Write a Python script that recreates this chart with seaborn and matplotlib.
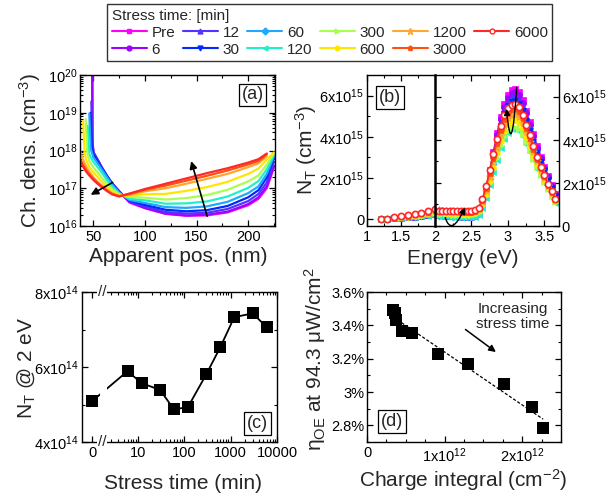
import numpy as np
import pandas as pd
import matplotlib
matplotlib.use("Agg")
import matplotlib.pyplot as plt
import seaborn as sns
from matplotlib import ticker
from matplotlib.lines import Line2D
from matplotlib.path import Path
from matplotlib.patches import FancyArrowPatch

# ---------------- data ----------------
stress_labels = ["Pre", "6", "12", "30", "60", "120", "300", "600", "1200", "3000", "6000"]
stress_colors = ["#ff00ff", "#a000ff", "#5533ff", "#0028ff", "#20a8ff", "#22f0c8",
                 "#a8ff50", "#ffe600", "#ffa830", "#ff5010", "#ff2828"]
stress_markers = ["s", "o", "^", "v", "D", "<", ">", "h", "*", "p", "o"]

# (a) charge density vs apparent position (log10 of cm^-3)
a_body_pos = [50, 54, 58, 63, 68, 75, 85, 100, 120, 140, 160, 180, 200, 210, 218, 225]
a_head_pos = [[49.0, 49.3], [48.7, 49.0], [48.0, 48.8], [47.2, 48.3], [46.0, 47.3],
              [44.5, 46.0], [42.5, 44.0, 46.0], [40.0, 41.5, 43.0, 46.0],
              [37, 40, 43, 46], [37, 40, 43, 46], [37, 40, 43, 46]]
a_head_logn = [[20.6, 18.2], [20.6, 18.3], [19.3, 18.2], [19.0, 18.15], [18.98, 18.05],
               [18.65, 17.9], [18.83, 17.95, 17.72], [18.78, 17.95, 17.75, 17.56],
               [18.0, 17.75, 17.57, 17.44], [17.78, 17.62, 17.48, 17.37],
               [17.72, 17.57, 17.44, 17.34]]
a_body_logn = [
    [17.93, 17.75, 17.55, 17.32, 17.12, 16.92, 16.62, 16.47, 16.32, 16.27, 16.28, 16.36, 16.55, 16.72, 17.00, 17.55],
    [17.95, 17.76, 17.56, 17.33, 17.13, 16.92, 16.64, 16.48, 16.33, 16.28, 16.30, 16.38, 16.58, 16.76, 17.05, 17.60],
    [17.96, 17.76, 17.56, 17.34, 17.14, 16.91, 16.65, 16.52, 16.37, 16.33, 16.35, 16.45, 16.66, 16.85, 17.15, 17.70],
    [17.90, 17.72, 17.54, 17.33, 17.13, 16.90, 16.67, 16.56, 16.43, 16.39, 16.42, 16.53, 16.76, 16.95, 17.28, 17.80],
    [17.82, 17.66, 17.50, 17.30, 17.10, 16.88, 16.69, 16.61, 16.50, 16.48, 16.52, 16.64, 16.87, 17.05, 17.38, 17.85],
    [17.70, 17.56, 17.42, 17.22, 17.05, 16.86, 16.72, 16.68, 16.59, 16.60, 16.65, 16.78, 17.01, 17.19, 17.50, 17.90],
    [17.55, 17.42, 17.28, 17.12, 16.98, 16.84, 16.77, 16.75, 16.70, 16.74, 16.82, 16.96, 17.18, 17.34, 17.63, 17.93],
    [17.42, 17.30, 17.18, 17.03, 16.92, 16.82, 16.80, 16.84, 16.85, 16.93, 17.03, 17.17, 17.38, 17.52, 17.76, 17.95],
    [17.29, 17.18, 17.08, 16.97, 16.87, 16.80, 16.83, 16.92, 17.00, 17.12, 17.25, 17.38, 17.56, 17.66, 17.85, None],
    [17.25, 17.14, 17.05, 16.94, 16.85, 16.79, 16.85, 16.96, 17.07, 17.20, 17.33, 17.47, 17.63, 17.72, 17.90, None],
    [17.22, 17.12, 17.03, 16.93, 16.84, 16.78, 16.86, 16.98, 17.12, 17.26, 17.40, 17.53, 17.68, 17.77, 17.92, None],
]

# (b) trap density spectra, units of 1e15 cm^-3
b_left_E = [1.2, 1.3, 1.4, 1.5, 1.6, 1.7, 1.8, 1.9, 2.0]
b_left_N = [
    [0.0, 0.01, 0.03, 0.06, 0.09, 0.12, 0.15, 0.20, 0.25],
    [0.0, 0.01, 0.04, 0.07, 0.10, 0.13, 0.17, 0.22, 0.28],
    [0.0, 0.01, 0.04, 0.07, 0.09, 0.12, 0.16, 0.21, 0.27],
    [0.0, 0.01, 0.04, 0.06, 0.09, 0.12, 0.15, 0.20, 0.26],
    [0.0, 0.01, 0.03, 0.06, 0.08, 0.11, 0.14, 0.18, 0.24],
    [-0.01, 0.0, 0.03, 0.05, 0.08, 0.10, 0.13, 0.17, 0.22],
    [0.0, 0.01, 0.04, 0.07, 0.10, 0.13, 0.17, 0.22, 0.28],
    [0.0, 0.01, 0.05, 0.09, 0.12, 0.16, 0.21, 0.27, 0.34],
    [0.0, 0.02, 0.06, 0.11, 0.14, 0.19, 0.25, 0.31, 0.40],
    [0.0, 0.02, 0.07, 0.13, 0.16, 0.22, 0.28, 0.35, 0.44],
    [0.0, 0.02, 0.08, 0.15, 0.18, 0.24, 0.30, 0.38, 0.48],
]
b_right_E = [2.00, 2.05, 2.10, 2.15, 2.20, 2.25, 2.30, 2.35, 2.40, 2.45, 2.50, 2.55,
             2.60, 2.65, 2.70, 2.75, 2.80, 2.85, 2.90, 2.95, 3.00, 3.05, 3.10, 3.15,
             3.20, 3.25, 3.30, 3.35, 3.40, 3.45, 3.50, 3.55, 3.60, 3.65]
b_right_N = [
    [.51, .50, .49, .48, .47, .46, .45, .44, .43, .43, .44, .48, .62, 1.05, 1.75, 2.6, 3.45, 4.3, 5.05, 5.65, 6.05, 6.3, 6.35, 6.2, 5.85, 5.35, 4.8, 4.25, 3.7, 3.2, 2.75, 2.3, 1.9, 1.5],
    [.59, .58, .57, .56, .55, .54, .53, .52, .51, .51, .52, .56, .70, 1.10, 1.76, 2.58, 3.4, 4.2, 4.95, 5.52, 5.92, 6.15, 6.2, 6.05, 5.72, 5.22, 4.7, 4.15, 3.62, 3.13, 2.7, 2.27, 1.87, 1.48],
    [.555, .545, .535, .525, .515, .505, .495, .485, .475, .47, .48, .52, .66, 1.07, 1.72, 2.52, 3.32, 4.1, 4.8, 5.35, 5.75, 5.96, 6.0, 5.86, 5.53, 5.05, 4.55, 4.03, 3.52, 3.05, 2.62, 2.2, 1.82, 1.45],
    [.54, .53, .52, .51, .50, .49, .48, .47, .46, .46, .47, .51, .64, 1.03, 1.66, 2.44, 3.22, 3.97, 4.65, 5.18, 5.56, 5.76, 5.8, 5.66, 5.35, 4.88, 4.4, 3.9, 3.4, 2.95, 2.53, 2.13, 1.76, 1.4],
    [.49, .48, .47, .46, .45, .44, .43, .42, .41, .41, .42, .45, .57, .92, 1.47, 2.17, 2.88, 3.56, 4.17, 4.65, 4.99, 5.17, 5.2, 5.08, 4.8, 4.38, 3.95, 3.5, 3.06, 2.65, 2.28, 1.92, 1.58, 1.25],
    [.49, .48, .46, .45, .44, .43, .42, .41, .40, .40, .41, .44, .53, .82, 1.28, 1.88, 2.49, 3.08, 3.61, 4.03, 4.32, 4.48, 4.5, 4.4, 4.16, 3.8, 3.43, 3.04, 2.66, 2.31, 1.99, 1.68, 1.38, 1.05],
    [.58, .57, .56, .55, .54, .53, .52, .51, .50, .50, .51, .54, .63, .92, 1.38, 1.98, 2.58, 3.17, 3.7, 4.12, 4.42, 4.58, 4.6, 4.5, 4.25, 3.88, 3.5, 3.1, 2.72, 2.36, 2.03, 1.71, 1.41, 1.12],
    [.65, .64, .63, .62, .61, .60, .59, .58, .57, .57, .58, .61, .71, 1.0, 1.48, 2.1, 2.75, 3.37, 3.94, 4.39, 4.71, 4.88, 4.9, 4.79, 4.52, 4.13, 3.72, 3.3, 2.88, 2.5, 2.15, 1.81, 1.49, 1.18],
    [.73, .72, .71, .70, .69, .68, .67, .66, .65, .65, .66, .69, .80, 1.12, 1.63, 2.28, 2.96, 3.62, 4.2, 4.66, 4.99, 5.17, 5.2, 5.07, 4.77, 4.35, 3.9, 3.45, 3.0, 2.6, 2.23, 1.87, 1.53, 1.2],
    [.74, .73, .72, .71, .70, .69, .68, .67, .66, .66, .67, .70, .83, 1.2, 1.76, 2.46, 3.17, 3.86, 4.46, 4.94, 5.26, 5.43, 5.45, 5.31, 4.99, 4.54, 4.07, 3.59, 3.12, 2.69, 2.3, 1.92, 1.57, 1.23],
    [.705, .70, .70, .70, .70, .70, .70, .70, .70, .70, .71, .72, .85, 1.25, 1.85, 2.6, 3.35, 4.05, 4.65, 5.15, 5.45, 5.62, 5.65, 5.5, 5.15, 4.7, 4.2, 3.7, 3.2, 2.75, 2.35, 1.95, 1.6, 1.25],
]

# (c) N_T at 2 eV vs stress time
c_time = [0, 6, 12, 30, 60, 120, 300, 600, 1200, 3000, 6000]
c_nt = [5.09e14, 5.89e14, 5.57e14, 5.39e14, 4.87e14, 4.93e14, 5.81e14, 6.53e14, 7.33e14, 7.43e14, 7.06e14]

# (d) efficiency vs charge integral
d_charge = [0.34e12, 0.36e12, 0.38e12, 0.45e12, 0.58e12, 0.91e12, 1.30e12, 1.76e12, 2.12e12, 2.27e12]
d_eta = [3.49, 3.475, 3.43, 3.365, 3.355, 3.23, 3.165, 3.045, 2.91, 2.785]

# ---------------- style ----------------
sns.set_style("ticks")
plt.rcParams.update({
    "font.family": ["Liberation Sans", "DejaVu Sans"],
    "mathtext.fontset": "custom",
    "mathtext.rm": "Liberation Sans",
    "mathtext.it": "Liberation Sans:italic",
    "mathtext.bf": "Liberation Sans:bold",
    "mathtext.default": "regular",
    "xtick.direction": "in", "ytick.direction": "in",
    "xtick.top": True, "ytick.right": True,
    "xtick.major.size": 4, "ytick.major.size": 4,
    "xtick.minor.size": 2.2, "ytick.minor.size": 2.2,
    "xtick.major.width": 0.9, "ytick.major.width": 0.9,
    "xtick.minor.width": 0.8, "ytick.minor.width": 0.8,
    "axes.linewidth": 1.0,
    "xtick.labelsize": 10.5, "ytick.labelsize": 10.5,
    "xtick.color": "k", "ytick.color": "k", "axes.edgecolor": "k",
    "xtick.major.pad": 3, "ytick.major.pad": 2,
})

W, H = 615, 498
fig = plt.figure(figsize=(W / 100, H / 100), dpi=100)


def rect(l, t, r, b):
    return [l / W, 1 - b / H, (r - l) / W, (b - t) / H]


ax_a = fig.add_axes(rect(80, 75, 275, 226))
ax_bl = fig.add_axes(rect(367, 75, 435, 226))
ax_br = fig.add_axes(rect(435, 75, 559, 226))
ax_c = fig.add_axes(rect(82, 292, 277, 442))
ax_d = fig.add_axes(rect(367, 292, 561, 442))

box = dict(boxstyle="square,pad=0.15", fc="white", ec="k", lw=0.9)
sup = lambda m, e: f"{m}x10$^{{{e}}}$"

# ---------------- (a) ----------------
rows = []
for i, lab in enumerate(stress_labels):
    for p, l in zip(a_head_pos[i] + a_body_pos, a_head_logn[i] + a_body_logn[i]):
        if l is not None:
            rows.append((lab, p, 10.0 ** l))
dfa = pd.DataFrame(rows, columns=["time", "pos", "dens"])
sns.lineplot(data=dfa, x="pos", y="dens", hue="time", hue_order=stress_labels,
             palette=stress_colors, estimator=None, sort=False, legend=False,
             lw=1.6, ax=ax_a)
ax_a.set_yscale("log")
ax_a.set_ylim(1e16, 1e20)
ax_a.set_xlim(37, 226)
ax_a.set_xticks([50, 100, 150, 200])
ax_a.xaxis.set_minor_locator(ticker.MultipleLocator(25))
ax_a.yaxis.set_major_locator(ticker.LogLocator(base=10, numticks=10))
ax_a.yaxis.set_minor_locator(ticker.LogLocator(base=10, subs=np.arange(2, 10), numticks=10))
ax_a.yaxis.set_minor_formatter(ticker.NullFormatter())
ax_a.set_xlabel("")
ax_a.set_ylabel("")
ax_a.annotate("", xy=(45, 10 ** 16.79), xytext=(71, 10 ** 17.19),
              arrowprops=dict(arrowstyle="-|>", color="k", lw=1.2, mutation_scale=11))
ax_a.annotate("", xy=(144, 10 ** 17.79), xytext=(161, 10 ** 16.19),
              arrowprops=dict(arrowstyle="-|>", color="k", lw=1.2, mutation_scale=11))
ax_a.text(0.885, 0.868, "(a)", transform=ax_a.transAxes, ha="center", va="center",
          fontsize=13, bbox=box)

# ---------------- (b) ----------------
for i, lab in enumerate(stress_labels):
    c = stress_colors[i]
    m = stress_markers[i]
    ms = {"s": 4.5, "D": 3.5, "*": 6}.get(m, 4.5)
    mfc = "white" if lab == "6000" else c
    mew = 1.2 if lab == "6000" else 0.5
    for ax, E, N in ((ax_bl, b_left_E, b_left_N[i]), (ax_br, b_right_E, b_right_N[i])):
        sns.lineplot(x=E, y=np.array(N) * 1e15, ax=ax, color=c, marker=m, markersize=ms,
                     markerfacecolor=mfc, markeredgecolor=c, markeredgewidth=mew,
                     lw=1.0, estimator=None, sort=False, legend=False)

ax_bl.set_xlim(1.0, 2.0)
ax_bl.set_ylim(-0.34e15, 7.0e15)
ax_bl.set_xticks([1, 1.5, 2], labels=["1", "1.5", "2"])
ax_bl.set_xticks([1.25, 1.75], minor=True)
ax_bl.set_yticks([0, 2e15, 4e15, 6e15], labels=["0", sup(2, 15), sup(4, 15), sup(6, 15)])
ax_bl.set_yticks([1e15, 3e15, 5e15], minor=True)
ax_bl.spines["right"].set_visible(False)
ax_bl.tick_params(axis="y", which="both", right=False)

ax_br.set_xlim(2.0, 3.7)
ax_br.set_ylim(0, 7.0e15)
ax_br.set_xticks([2.5, 3, 3.5], labels=["2.5", "3", "3.5"])
ax_br.set_xticks([2.25, 2.75, 3.25], minor=True)
ax_br.set_yticks([0, 2e15, 4e15, 6e15], labels=["0", sup(2, 15), sup(4, 15), sup(6, 15)])
ax_br.set_yticks([1e15, 3e15, 5e15], minor=True)
ax_br.tick_params(axis="y", which="both", left=True, right=True, labelleft=False,
                  labelright=True)
ax_br.spines["left"].set_linewidth(1.8)
for ax in (ax_bl, ax_br):
    ax.set_xlabel("")
    ax.set_ylabel("")
ax_bl.text(0.34, 0.85, "(b)", transform=ax_bl.transAxes, ha="center", va="center",
           fontsize=13, bbox=box)

p1 = Path([(3.12, 6.43e15), (3.05, 2.75e15), (2.98, 5.43e15)],
          [Path.MOVETO, Path.CURVE3, Path.CURVE3])
ax_br.add_patch(FancyArrowPatch(path=p1, arrowstyle="-|>", mutation_scale=9, color="k",
                                lw=1.0, transform=ax_br.transData, zorder=5))
p2 = Path([(2.14, 0.39e15), (2.225, -0.52e15), (2.41, 0.85e15)],
          [Path.MOVETO, Path.CURVE3, Path.CURVE3])
ax_br.add_patch(FancyArrowPatch(path=p2, arrowstyle="-|>", mutation_scale=9, color="k",
                                lw=1.0, transform=ax_br.transData, zorder=5, clip_on=False))

# ---------------- (c) ----------------
sns.lineplot(x=c_time, y=c_nt, ax=ax_c, color="k", lw=1.3, estimator=None, sort=False,
             legend=False, zorder=2)
sns.scatterplot(x=c_time, y=c_nt, ax=ax_c, marker="s", s=70, color="k", linewidth=0,
                zorder=3, legend=False)
ax_c.set_xscale("symlog", linthresh=5, linscale=0.616)
ax_c.set_xlim(-1.6, 10000)
ax_c.set_ylim(4e14, 8e14)
ax_c.axvspan(1.3, 2.3, ymin=0.04, ymax=0.96, color="white", lw=0, zorder=2.2)
ax_c.set_xticks([0, 10, 100, 1000, 10000], labels=["0", "10", "100", "1000", "10000"])
minor_c = [k * 10 ** e for e in range(0, 4) for k in range(2, 10)]
ax_c.xaxis.set_minor_locator(ticker.FixedLocator(minor_c))
ax_c.set_yticks([4e14, 6e14, 8e14], labels=[sup(4, 14), sup(6, 14), sup(8, 14)])
ax_c.set_yticks([5e14, 7e14], minor=True)
ax_c.set_xlabel("")
ax_c.set_ylabel("")
for yy in (0, 1):
    ax_c.text(1.56, yy, "//", transform=ax_c.get_xaxis_transform(), ha="center",
              va="center", fontsize=11, clip_on=False, zorder=6,
              bbox=dict(boxstyle="square,pad=0.05", fc="white", ec="none"))
ax_c.text(0.90, 0.123, "(c)", transform=ax_c.transAxes, ha="center", va="center",
          fontsize=13, bbox=box)

# ---------------- (d) ----------------
sns.regplot(x=d_charge, y=d_eta, ax=ax_d, scatter=False, ci=None, truncate=True,
            color="k", line_kws=dict(lw=0.9, ls=(0, (2.5, 1.5))))
sns.scatterplot(x=d_charge, y=d_eta, ax=ax_d, marker="s", s=64, color="k", linewidth=0,
                zorder=3, legend=False)
ax_d.set_xlim(0, 2.5e12)
ax_d.set_ylim(2.7, 3.6)
ax_d.set_xticks([0, 1e12, 2e12], labels=["0", sup(1, 12), sup(2, 12)])
ax_d.xaxis.set_minor_locator(ticker.MultipleLocator(0.25e12))
ax_d.set_yticks([2.8, 3.0, 3.2, 3.4, 3.6])
ax_d.yaxis.set_major_formatter(ticker.FuncFormatter(lambda v, p: f"{v:g}%"))
ax_d.yaxis.set_minor_locator(ticker.MultipleLocator(0.1))
ax_d.set_xlabel("")
ax_d.set_ylabel("")
ax_d.text(1.88e12, 3.455, "Increasing\nstress time", ha="center", va="center",
          fontsize=11, linespacing=1.1)
ax_d.annotate("", xy=(1.69e12, 3.23), xytext=(1.24e12, 3.385),
              arrowprops=dict(arrowstyle="-|>", color="k", lw=1.1, mutation_scale=10))
ax_d.text(0.129, 0.137, "(d)", transform=ax_d.transAxes, ha="center", va="center",
          fontsize=13, bbox=box)

# ---------------- axis labels ----------------
LS = 15
fig.text(30 / W, 1 - 151 / H, "Ch. dens. (cm$^{-3}$)", rotation=90, ha="center", va="center", fontsize=LS)
fig.text(178 / W, 1 - 257 / H, "Apparent pos. (nm)", ha="center", va="center", fontsize=LS)
fig.text(306 / W, 1 - 150 / H, "N$_T$ (cm$^{-3}$)", rotation=90, ha="center", va="center", fontsize=LS)
fig.text(463 / W, 1 - 258 / H, "Energy (eV)", ha="center", va="center", fontsize=LS)
fig.text(26 / W, 1 - 368 / H, "N$_T$ @ 2 eV", rotation=90, ha="center", va="center", fontsize=LS)
fig.text(183 / W, 1 - 483 / H, "Stress time (min)", ha="center", va="center", fontsize=LS)
fig.text(315 / W, 1 - 359 / H, "η$_{OE}$ at 94.3 μW/cm$^2$", rotation=90, ha="center", va="center", fontsize=LS)
fig.text(463 / W, 1 - 480 / H, "Charge integral (cm$^{-2}$)", ha="center", va="center", fontsize=LS)

# ---------------- legend ----------------
handles = []
for i, lab in enumerate(stress_labels):
    c = stress_colors[i]
    handles.append(Line2D([], [], color=c, lw=1.5, marker=stress_markers[i],
                          markersize=3.5 if stress_markers[i] != "*" else 5,
                          markerfacecolor="white" if lab == "6000" else c,
                          markeredgecolor=c, markeredgewidth=1.0))
leg = fig.legend(handles, stress_labels, loc="upper left",
                 bbox_to_anchor=(107 / W, 1 - 4 / H), ncol=6,
                 title="Stress time: [min]", alignment="left", fontsize=11,
                 title_fontsize=11, frameon=True, fancybox=False, edgecolor="k",
                 handlelength=2.3, handletextpad=0.3, columnspacing=0.5,
                 borderpad=0.3, labelspacing=0.2, borderaxespad=0)
leg.get_frame().set_linewidth(1.0)

fig.savefig("out.png", dpi=100)
